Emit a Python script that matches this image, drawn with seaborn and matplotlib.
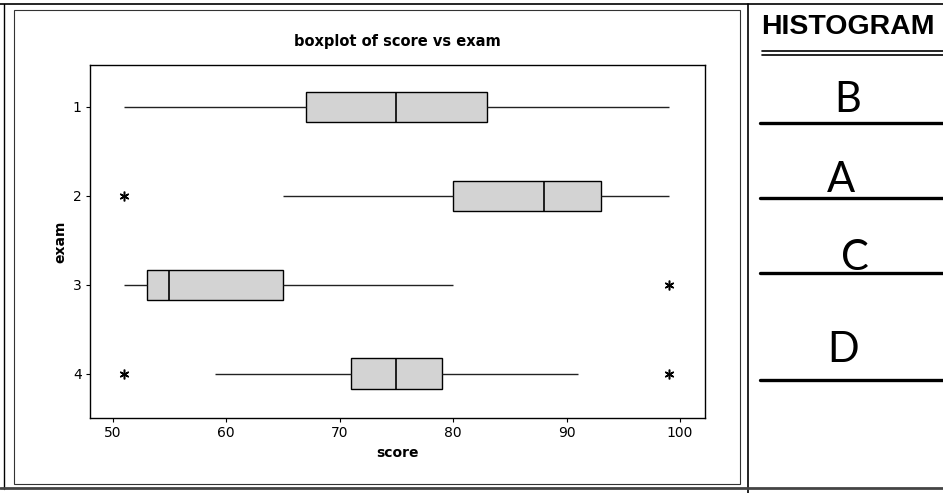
import matplotlib
matplotlib.use("Agg")
import matplotlib.pyplot as plt
from matplotlib.lines import Line2D
from matplotlib.patches import Rectangle
import seaborn as sns
import pandas as pd

# ---- data (each list reproduces the box summary) ----
exam_labels = ["1", "2", "3", "4"]
exam1_scores = [51, 67, 67, 75, 75, 83, 83, 99, 99]
exam2_scores = [51, 65, 80, 80, 88, 93, 93, 99, 99]
exam3_scores = [51, 53, 53, 55, 55, 65, 65, 80, 99]
exam4_scores = [51, 59, 71, 71, 75, 79, 79, 91, 99]
x_ticks = [50, 60, 70, 80, 90, 100]
answer_letters = ["B", "A", "C", "D"]

score_lists = [exam1_scores, exam2_scores, exam3_scores, exam4_scores]
df = pd.DataFrame({
    "exam": [lab for lab, s in zip(exam_labels, score_lists) for _ in s],
    "score": [v for s in score_lists for v in s],
})

sns.set_style("white")
plt.rcParams["font.family"] = ["DejaVu Sans"]
plt.rcParams["text.color"] = "black"
plt.rcParams["axes.labelcolor"] = "black"
plt.rcParams["xtick.color"] = "black"
plt.rcParams["ytick.color"] = "black"

W, H = 943, 493
fig = plt.figure(figsize=(W / 100, H / 100), dpi=100)

def fx(px):
    return px / W

def fy(py):
    return 1 - py / H

ax = fig.add_axes([fx(90), fy(418), fx(705) - fx(90), fy(65) - fy(418)])

sns.boxplot(
    data=df, x="score", y="exam", order=exam_labels, orient="h", ax=ax,
    color="#d3d3d3", linecolor="black", linewidth=1.0, width=0.34,
    whis=1.5, showcaps=False,
    flierprops=dict(marker=(6, 2, 0), markersize=7, markeredgecolor="black",
                    markeredgewidth=1.1, markerfacecolor="black"),
    medianprops=dict(color="black", linewidth=1.2),
    whiskerprops=dict(color="#222222", linewidth=1.0),
)

ax.set_xlim(48.0, 102.2)
ax.set_ylim(3.5, -0.47)
ax.set_xticks(x_ticks)
ax.set_xticklabels([str(t) for t in x_ticks])
ax.tick_params(axis="both", which="both", direction="out", length=3, width=0.8,
               labelsize=10, colors="black", bottom=True, left=True, pad=3)
for sp in ax.spines.values():
    sp.set_visible(True)
    sp.set_color("black")
    sp.set_linewidth(1.0)
ax.set_xlabel("score", fontsize=10, fontweight="bold", labelpad=4, color="black")
ax.set_ylabel("exam", fontsize=10, fontweight="bold", labelpad=4, color="black")
ax.set_title("boxplot of score vs exam", fontsize=10.5, fontweight="bold", pad=14,
             color="black")

# ---- frame lines of the scanned sheet ----
def line(x0, y0, x1, y1, lw=1.0, color="black"):
    fig.add_artist(Line2D([fx(x0), fx(x1)], [fy(y0), fy(y1)], lw=lw, color=color,
                          transform=fig.transFigure))

line(0, 4, W, 4, lw=1.2)
line(4, 4, 4, 489, lw=1.0)
fig.add_artist(Rectangle((fx(14), fy(484)), fx(740) - fx(14), fy(10) - fy(484),
                         fill=False, lw=0.8, edgecolor="#333333",
                         transform=fig.transFigure))
line(748, 4, 748, 493, lw=1.2)
line(0, 488, W, 488, lw=2.0, color="#444444")

# ---- right-hand answer panel ----
fig.text(fx(761), fy(27), "HISTOGRAM", fontsize=20.5, fontweight="bold",
         family=["Liberation Sans", "DejaVu Sans"], ha="left", va="center",
         color="black")
line(762, 51, W, 51, lw=1.2)
line(762, 54.5, W, 54.5, lw=1.2)
rule_y = [123, 198, 273, 380]
letter_pos = [(848, 100), (841, 180), (855, 258), (843, 350)]
for ry in rule_y:
    line(760, ry, W, ry, lw=2.4)
for letter, (lx, ly) in zip(answer_letters, letter_pos):
    fig.text(fx(lx), fy(ly), letter, fontsize=30, fontweight="normal",
             family=["Lato", "DejaVu Sans"], ha="center", va="center",
             color="black")

fig.savefig("out.png", dpi=100)
